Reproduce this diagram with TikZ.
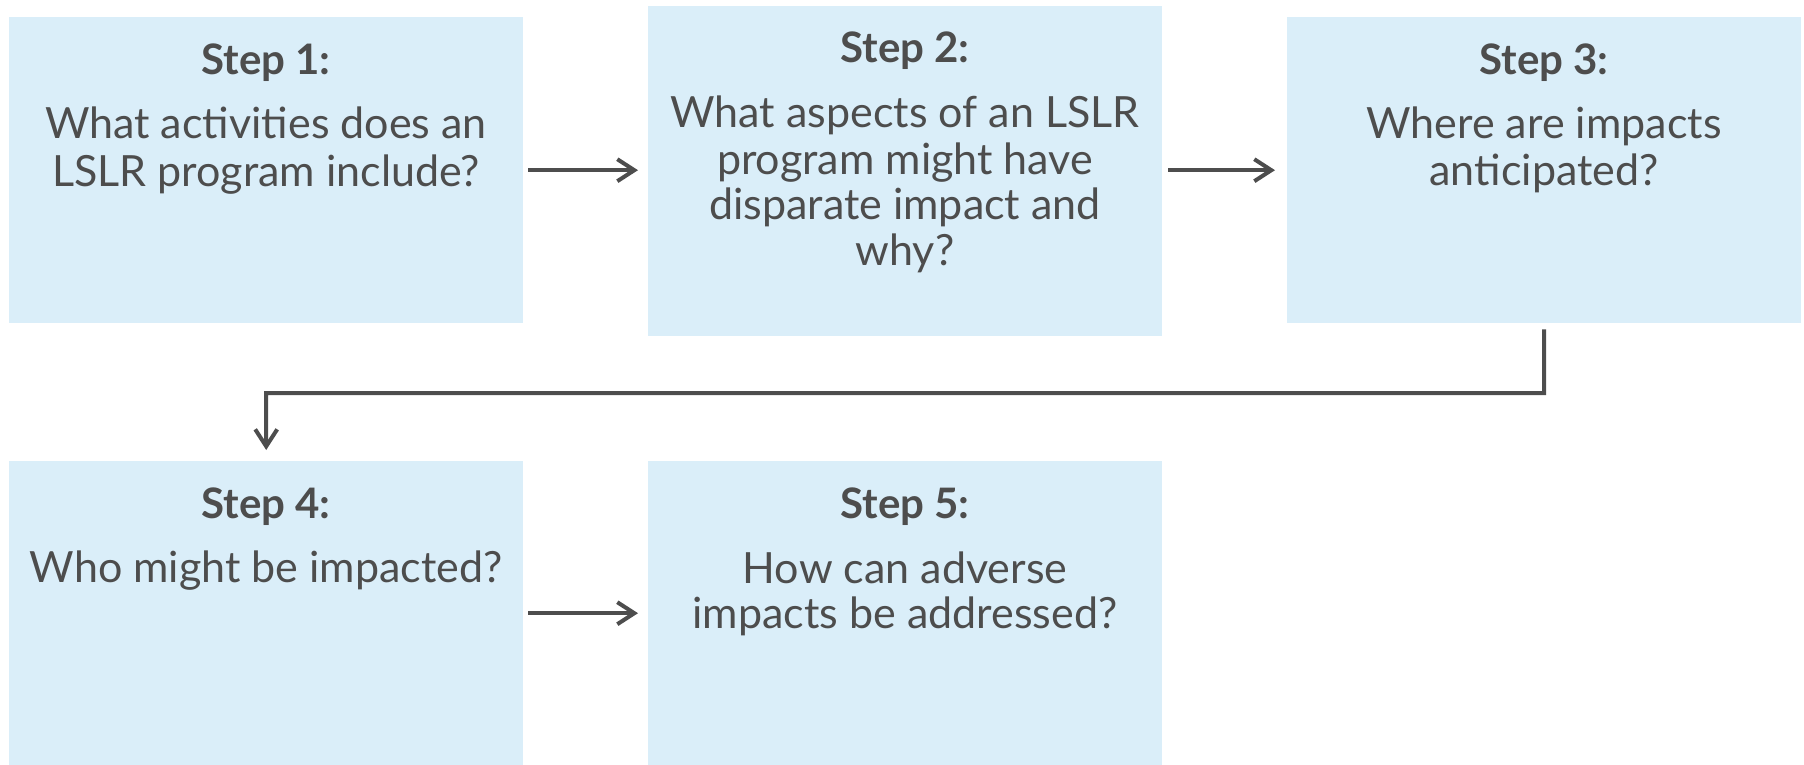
\documentclass[tikz,border=0pt]{standalone}
\usepackage{fontspec}
\setmainfont{Lato}
\usetikzlibrary{arrows.meta}
\definecolor{boxfill}{HTML}{DAEEF9}
\definecolor{ink}{HTML}{4D4D4D}
\begin{document}
\begin{tikzpicture}[x=1pt,y=-1pt,
  stepbox/.style={fill=boxfill,draw=none,inner sep=0pt,anchor=north west},
  head/.style={anchor=base,inner sep=0pt,text=ink,font=\fontsize{42}{48}\bfseries\selectfont},
  body/.style={anchor=base,inner sep=0pt,text=ink,font=\fontsize{43}{46}\selectfont},
  conn/.style={draw=ink,line width=4pt,-{Straight Barb[length=17pt,width=22pt,line width=4pt]}}]
\useasboundingbox (0,0) rectangle (1804,765);
% boxes
\node[stepbox,minimum width=514pt,minimum height=306pt] (b1) at (9,17) {};
\node[stepbox,minimum width=514pt,minimum height=330pt] (b2) at (648,6) {};
\node[stepbox,minimum width=514pt,minimum height=306pt] (b3) at (1287,17) {};
\node[stepbox,minimum width=514pt,minimum height=304pt] (b4) at (9,461) {};
\node[stepbox,minimum width=514pt,minimum height=304pt] (b5) at (648,461) {};
% texts
\node[head] (h1) at (266,75) {Step 1:};
\node[body] (t1a) at (266,139) {What activities does an};
\node[body] (t1b) at (266,186) {LSLR program include?};
\node[head] (h2) at (905,63) {Step 2:};
\node[body] (t2a) at (905,128) {What aspects of an LSLR};
\node[body] (t2b) at (905,174) {program might have};
\node[body] (t2c) at (905,219) {disparate impact and};
\node[body] (t2d) at (905,265) {why?};
\node[head] (h3) at (1544,75) {Step 3:};
\node[body] (t3a) at (1544,139) {Where are impacts};
\node[body] (t3b) at (1544,185) {anticipated?};
\node[head] (h4) at (266,518) {Step 4:};
\node[body] (t4a) at (266,582) {Who might be impacted?};
\node[head] (h5) at (905,518) {Step 5:};
\node[body] (t5a) at (905,583) {How can adverse};
\node[body] (t5b) at (905,628) {impacts be addressed?};
% connectors
\draw[conn,shorten <=5pt,shorten >=10pt] (b1.east) -- (b1.east -| b2.west);
\draw[conn,shorten <=6pt,shorten >=12pt] (b2.east |- b3.west) -- (b3.west);
\draw[conn,shorten <=5pt,shorten >=10pt] (b4.east) -- (b5.west);
\coordinate (c1) at (1544,393);
\draw[conn,shorten <=6pt,shorten >=11pt] (b3.south) -- (c1) -| (b4.north);
\end{tikzpicture}
\end{document}
